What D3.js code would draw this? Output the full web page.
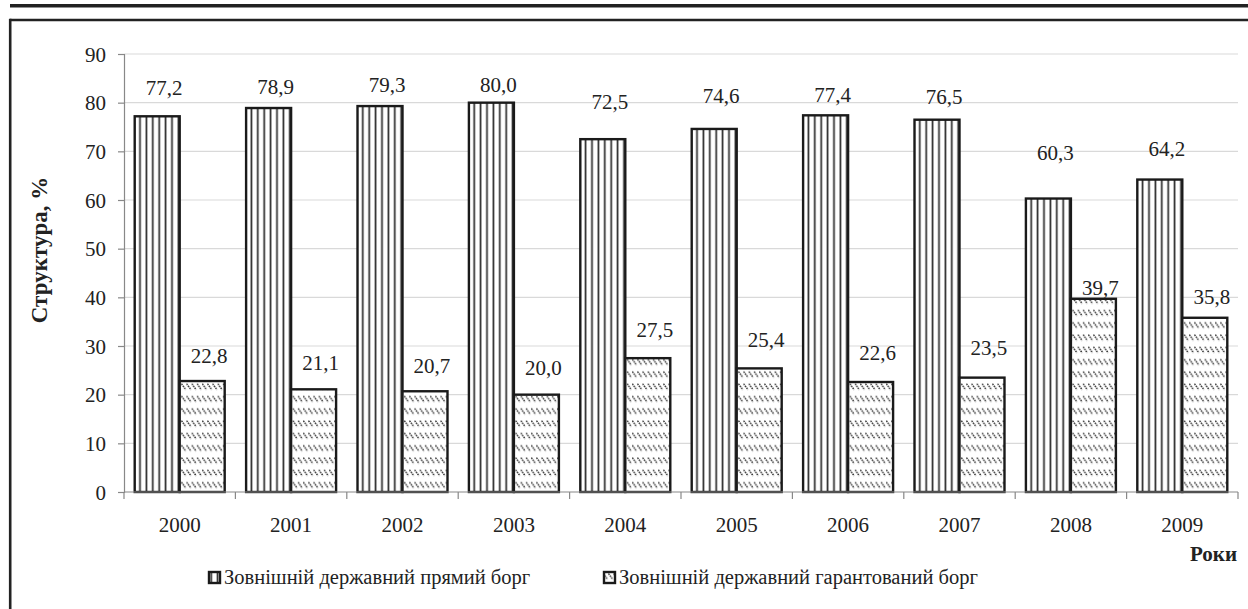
<!DOCTYPE html>
<html>
<head>
<meta charset="utf-8">
<script src="https://cdn.jsdelivr.net/npm/d3@7"></script>
<style>
  html, body { margin: 0; padding: 0; background: #fff; }
</style>
</head>
<body>
<svg id="chart" width="1248" height="609"></svg>
<script>
// ---- data ----
const years = ["2000","2001","2002","2003","2004","2005","2006","2007","2008","2009"];
const directDebt = [77.2, 78.9, 79.3, 80.0, 72.5, 74.6, 77.4, 76.5, 60.3, 64.2];
const guaranteedDebt = [22.8, 21.1, 20.7, 20.0, 27.5, 25.4, 22.6, 23.5, 39.7, 35.8];
const yTicks = [0, 10, 20, 30, 40, 50, 60, 70, 80, 90];
const seriesNames = ["Зовнішній державний прямий борг", "Зовнішній державний гарантований борг"];
const yTitle = "Структура, %";
const xTitle = "Роки";

// ---- layout (label lifts above bar tops, as placed in the original) ----
const liftDirect = [28, 21, 21, 18, 37, 33, 20, 23, 46, 31];
const liftGuaranteed = [25, 26, 25, 27, 28, 29, 29, 30, 11, 21];

const FONT = "Liberation Serif";
const svg = d3.select("#chart");
const defs = svg.append("defs");

// vertical-lines pattern
const pv = defs.append("pattern").attr("id", "pVert").attr("patternUnits", "userSpaceOnUse")
  .attr("width", 6.4).attr("height", 10);
pv.append("rect").attr("width", 6.4).attr("height", 10).attr("fill", "#fff");
pv.append("line").attr("x1", 3.2).attr("x2", 3.2).attr("y1", 0).attr("y2", 10)
  .attr("stroke", "#2a2a2a").attr("stroke-width", 1.7);

// small diagonal dashes pattern
const pd = defs.append("pattern").attr("id", "pDiag").attr("patternUnits", "userSpaceOnUse")
  .attr("width", 5.2).attr("height", 12.3);
pd.append("rect").attr("width", 5.2).attr("height", 12.3).attr("fill", "#fff");
pd.append("line").attr("x1", 0.3).attr("y1", 2.5).attr("x2", 4.6).attr("y2", 8.5)
  .attr("stroke", "#333").attr("stroke-width", 1.4).attr("stroke-dasharray", "1.6,0.8");

// frame
svg.append("line").attr("x1", 10).attr("x2", 1248).attr("y1", 5.8).attr("y2", 5.8)
  .attr("stroke", "#222").attr("stroke-width", 3.6);
svg.append("line").attr("x1", 10).attr("x2", 1248).attr("y1", 20).attr("y2", 20)
  .attr("stroke", "#222").attr("stroke-width", 2.6);
svg.append("line").attr("x1", 10.2).attr("x2", 10.2).attr("y1", 18.7).attr("y2", 609)
  .attr("stroke", "#222").attr("stroke-width", 2.6);

// scales
const x = d3.scaleBand().domain(years).range([124, 1238]).paddingInner(0).paddingOuter(0);
const xs = d3.scaleBand().domain([0, 1]).range([0, x.bandwidth()]).paddingInner(0).paddingOuter(0.238);
const y = d3.scaleLinear().domain([0, 90]).range([492, 54]);

// gridlines
svg.append("g").selectAll("line").data(yTicks.filter(t => t > 0)).join("line")
  .attr("x1", 124).attr("x2", 1238)
  .attr("y1", d => y(d)).attr("y2", d => y(d))
  .attr("stroke", "#d9d9d9").attr("stroke-width", 1.2);

// y axis
const yAxis = svg.append("g").attr("transform", "translate(124,0)")
  .call(d3.axisLeft(y).tickValues(yTicks).tickSize(6).tickPadding(12).tickFormat(d3.format("d")));
yAxis.attr("font-family", FONT).attr("font-size", 21);
yAxis.select(".domain").attr("stroke", "#888").attr("stroke-width", 1.2);
yAxis.selectAll(".tick line").attr("stroke", "#888").attr("stroke-width", 1.2);
yAxis.selectAll(".tick text").attr("font-family", FONT).attr("font-size", 21)
  .attr("fill", "#222").attr("dy", "0.34em");

// bars
const groups = svg.append("g").selectAll("g").data(years).join("g")
  .attr("transform", d => `translate(${x(d)},0)`);
const seriesData = [directDebt, guaranteedDebt];
const fills = ["url(#pVert)", "url(#pDiag)"];
const lifts = [liftDirect, liftGuaranteed];
groups.each(function(yr, i) {
  const g = d3.select(this);
  [0, 1].forEach(s => {
    const v = seriesData[s][i];
    g.append("rect")
      .attr("x", xs(s)).attr("width", xs.bandwidth())
      .attr("y", y(v)).attr("height", y(0) - y(v))
      .attr("fill", fills[s]).attr("stroke", "#1a1a1a").attr("stroke-width", 2.4);
    g.append("text")
      .attr("x", xs(s) + xs.bandwidth() / 2 + 7)
      .attr("y", y(v) - lifts[s][i])
      .attr("dy", "0.34em")
      .attr("text-anchor", "middle").attr("font-size", 21).attr("fill", "#222")
      .attr("font-family", FONT)
      .text(d3.format(".1f")(v).replace(".", ","));
  });
});

// x axis
const xAxisG = svg.append("g").attr("transform", "translate(0,492)");
xAxisG.append("line").attr("x1", 124).attr("x2", 1238).attr("stroke", "#888").attr("stroke-width", 1.2);
xAxisG.selectAll("line.tk").data(years.concat(["end"])).join("line").attr("class", "tk")
  .attr("x1", (d, i) => i < years.length ? x(d) : x(years[years.length - 1]) + x.bandwidth())
  .attr("x2", (d, i) => i < years.length ? x(d) : x(years[years.length - 1]) + x.bandwidth())
  .attr("y1", 0).attr("y2", 7).attr("stroke", "#888").attr("stroke-width", 1.2);
xAxisG.selectAll("text").data(years).join("text")
  .attr("x", d => x(d) + x.bandwidth() / 2).attr("y", 40)
  .attr("text-anchor", "middle").attr("font-size", 21).attr("fill", "#222")
  .attr("font-family", FONT).text(d => d);

// axis titles
svg.append("text").attr("x", 1237).attr("y", 561).attr("text-anchor", "end")
  .attr("font-size", 21).attr("font-weight", "bold").attr("fill", "#222")
  .attr("font-family", FONT).text(xTitle);
svg.append("text").attr("transform", "translate(47,250) rotate(-90)")
  .attr("text-anchor", "middle").attr("font-size", 23).attr("font-weight", "bold").attr("fill", "#222")
  .attr("font-family", FONT).text(yTitle);

// legend
const legendItems = [{x: 208, name: seriesNames[0], fill: fills[0]}, {x: 603, name: seriesNames[1], fill: fills[1]}];
const lg = svg.append("g").selectAll("g").data(legendItems).join("g")
  .attr("transform", d => `translate(${d.x},571)`);
lg.append("rect").attr("x", 1).attr("y", 1).attr("width", 11).attr("height", 11)
  .attr("fill", d => d.fill).attr("stroke", "#1a1a1a").attr("stroke-width", 2.4);
lg.append("text").attr("x", 16).attr("y", 12.5).attr("font-size", 20.5).attr("fill", "#222")
  .attr("font-family", FONT).text(d => d.name);
</script>
</body>
</html>
